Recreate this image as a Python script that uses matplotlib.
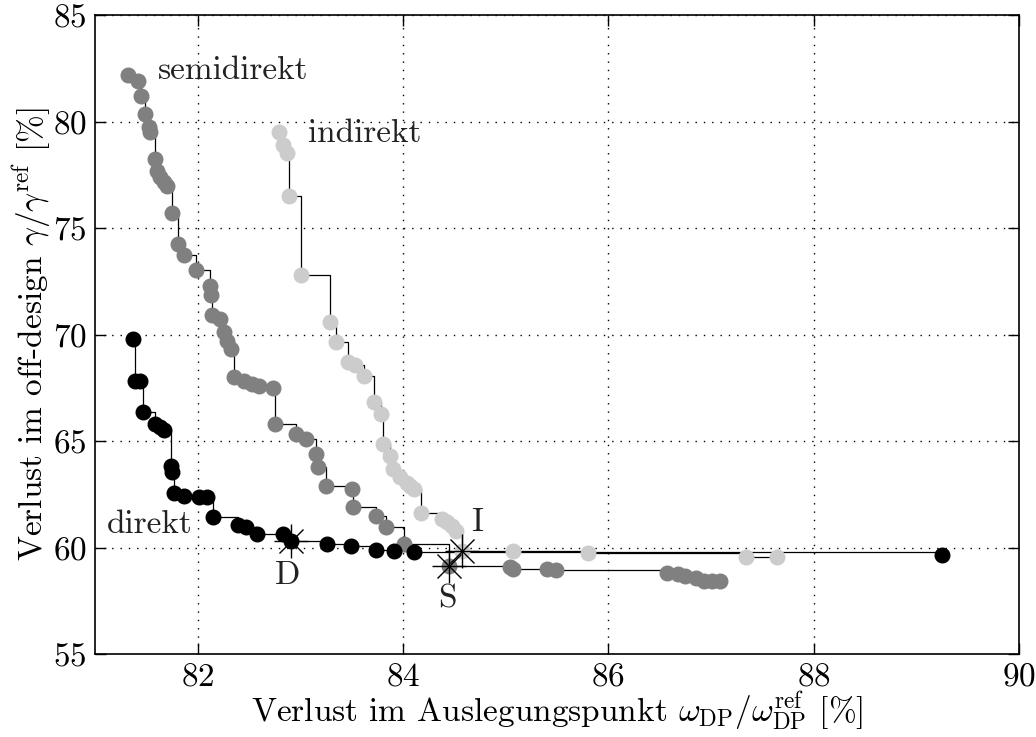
import matplotlib
matplotlib.use("Agg")
import matplotlib.pyplot as plt

plt.rcParams['font.family'] = 'cmr10'
plt.rcParams['mathtext.fontset'] = 'cm'
plt.rcParams['axes.formatter.use_mathtext'] = True

# Pareto-Fronten
semi_x = [81.32, 81.42, 81.45, 81.49, 81.53, 81.54, 81.58, 81.60, 81.63, 81.67,
          81.70, 81.75, 81.81, 81.87, 81.98, 82.12, 82.13, 82.14, 82.22, 82.26,
          82.29, 82.32, 82.35, 82.45, 82.53, 82.60, 82.73, 82.75, 82.96, 83.06,
          83.15, 83.17, 83.25, 83.50, 83.51, 83.74, 83.83, 84.01, 84.45, 85.04,
          85.07, 85.40, 85.49, 86.57, 86.68, 86.75, 86.85, 86.93, 87.01, 87.09]
semi_y = [82.18, 81.92, 81.21, 80.35, 79.73, 79.49, 78.24, 77.69, 77.38, 77.15,
          76.99, 75.70, 74.25, 73.73, 73.04, 72.29, 71.85, 70.92, 70.73, 70.10,
          69.71, 69.32, 67.99, 67.83, 67.68, 67.57, 67.47, 65.80, 65.33, 65.09,
          64.39, 63.77, 62.87, 62.75, 61.89, 61.49, 60.95, 60.16, 59.15, 59.07,
          58.99, 58.98, 58.93, 58.80, 58.76, 58.68, 58.57, 58.44, 58.41, 58.41]

ind_x = [82.79, 82.83, 82.87, 82.89, 83.01, 83.29, 83.35, 83.46, 83.53, 83.62,
         83.72, 83.79, 83.81, 83.87, 83.90, 83.97, 84.04, 84.07, 84.11, 84.18,
         84.38, 84.43, 84.48, 84.52, 84.57, 85.07, 85.80, 87.34, 87.64]
ind_y = [79.52, 78.90, 78.52, 76.52, 72.81, 70.60, 69.63, 68.70, 68.57, 68.07,
         66.85, 66.27, 64.86, 64.28, 63.69, 63.30, 63.03, 62.87, 62.75, 61.62,
         61.34, 61.18, 60.99, 60.79, 59.85, 59.82, 59.74, 59.54, 59.54]

dir_x = [81.37, 81.39, 81.44, 81.47, 81.58, 81.63, 81.67, 81.74, 81.75, 81.77,
         81.87, 82.01, 82.09, 82.15, 82.39, 82.47, 82.58, 82.83, 82.91, 83.26,
         83.49, 83.74, 83.91, 84.11, 89.25]
dir_y = [69.79, 67.83, 67.83, 66.35, 65.80, 65.64, 65.53, 63.84, 63.53, 62.56,
         62.43, 62.36, 62.36, 61.42, 61.06, 60.95, 60.63, 60.63, 60.32, 60.16,
         60.05, 59.90, 59.85, 59.77, 59.65]

# ausgewaehlte Designs D, S, I
sel_names = ['D', 'S', 'I']
sel_x = [82.91, 84.45, 84.57]
sel_y = [60.32, 59.15, 59.85]

fig = plt.figure(figsize=(10.36, 7.37), dpi=100)
ax = fig.add_axes([0.0917, 0.1126, 0.8919, 0.867])

for xs, ys, col in [(semi_x, semi_y, '#808080'),
                    (ind_x, ind_y, '#cccccc'),
                    (dir_x, dir_y, 'black')]:
    ax.plot(xs, ys, color='black', lw=0.9, drawstyle='steps-post', zorder=2)
    ax.plot(xs, ys, 'o', color=col, ms=10.5, mec=col, zorder=3)

ax.plot(sel_x, sel_y, '+', color='black', ms=24, mew=1.0, zorder=4)
ax.plot(sel_x, sel_y, 'x', color='black', ms=17, mew=1.0, zorder=4)

fs = 24
tc = '#222222'
ax.text(81.61, 82.0, 'semidirekt', fontsize=fs, color=tc)
ax.text(83.07, 79.05, 'indirekt', fontsize=fs, color=tc)
ax.text(81.12, 60.68, 'direkt', fontsize=fs, color=tc)
ax.text(82.88, 58.3, 'D', fontsize=fs, ha='center', color=tc)
ax.text(84.43, 57.2, 'S', fontsize=fs, ha='center', color=tc)
ax.text(84.72, 60.79, 'I', fontsize=fs, ha='center', color=tc)

ax.set_xlim(81, 90)
ax.set_ylim(55, 85)
ax.set_xticks([82, 84, 86, 88, 90])
ax.set_yticks([55, 60, 65, 70, 75, 80, 85])
ax.tick_params(direction='in', top=True, right=True, length=8, width=1,
               labelsize=fs, pad=6)
ax.grid(True, color='black', linestyle=(0, (1, 5)), lw=1.0)
for s in ax.spines.values():
    s.set_linewidth(1.2)

ax.set_xlabel(r'Verlust im Auslegungspunkt $\omega_{\rm DP}/\omega_{\rm DP}^{\rm ref}$ [%]',
              fontsize=fs, labelpad=-1)
ax.set_ylabel(r'Verlust im off-design $\gamma/\gamma^{\rm ref}$ [%]',
              fontsize=fs, labelpad=0)

fig.savefig('out.png', dpi=100)
